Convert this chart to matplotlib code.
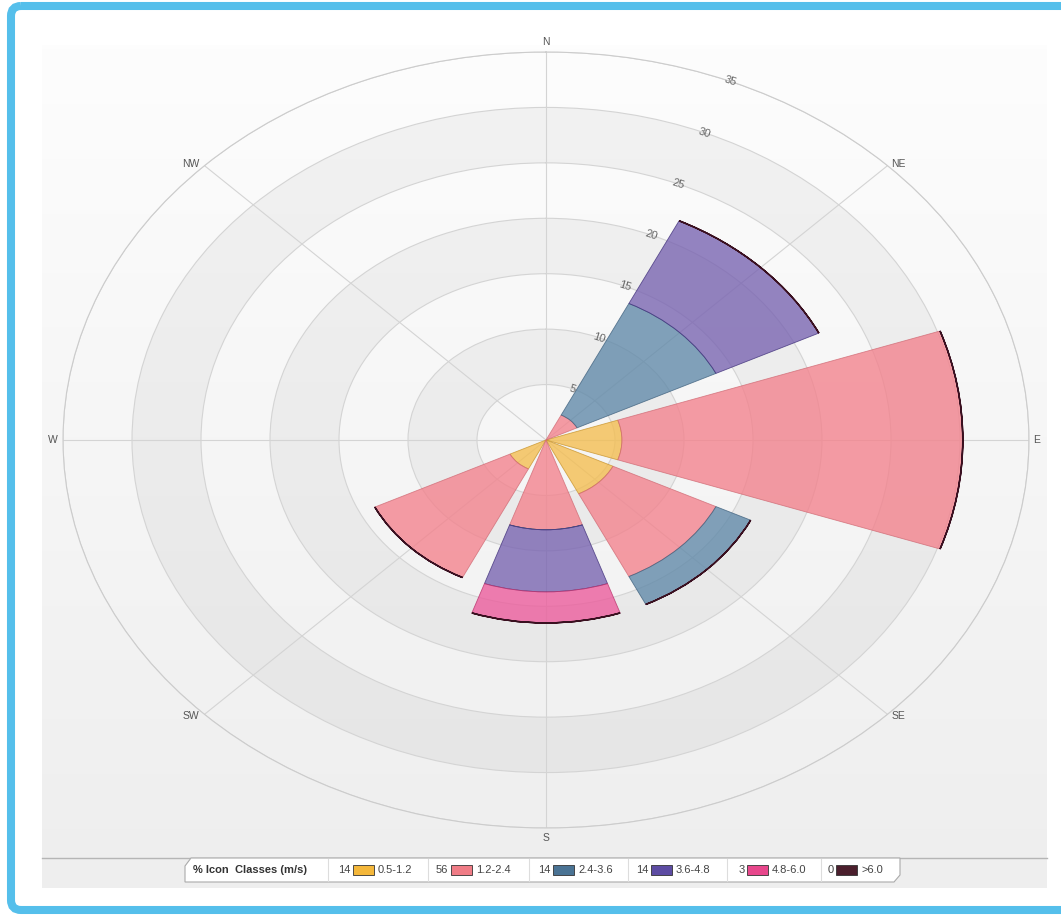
import numpy as np
import matplotlib.pyplot as plt
from matplotlib.patches import Polygon, FancyBboxPatch, Rectangle

# wind directions and speed classes
directions = ["N", "NE", "E", "SE", "S", "SW", "W", "NW"]
dir_angles = [0, 45, 90, 135, 180, 225, 270, 315]
classes = ["0.5-1.2", "1.2-2.4", "2.4-3.6", "3.6-4.8", "4.8-6.0", ">6.0"]
class_pct = [14, 56, 14, 14, 3, 0]

# frequency (%) per direction for each class
v_05_12 = [0, 0, 5.5, 5.4, 0, 2.9, 0, 0]
v_12_24 = [0, 2.5, 24.7, 8.3, 8.1, 10.9, 0, 0]
v_24_36 = [0, 11.2, 0, 2.8, 0, 0, 0, 0]
v_36_48 = [0, 8.3, 0, 0, 5.6, 0, 0, 0]
v_48_60 = [0, 0, 0, 0, 2.8, 0, 0, 0]
v_60_up = [0, 0, 0, 0, 0, 0, 0, 0]

ring_ticks = [5, 10, 15, 20, 25, 30, 35]

series = [v_05_12, v_12_24, v_24_36, v_36_48, v_48_60, v_60_up]
fill_cols = ["#f4bd4f", "#f3818c", "#5f88a8", "#7762b0", "#ec5a9b", "#5a2a3a"]
edge_cols = ["#c8932a", "#d06a74", "#3d5f7c", "#3f2f7a", "#b8306a", "#3a1020"]
swatch_cols = ["#f4b73a", "#f07c86", "#4a7394", "#5d4ca3", "#e8478c", "#4b1f2d"]

W, H = 1061, 915
fig = plt.figure(figsize=(W / 100, H / 100), dpi=100)
fig.patch.set_facecolor("white")

# background layer in pixel coordinates
bg = fig.add_axes([0, 0, 1, 1])
bg.set_xlim(0, W)
bg.set_ylim(H, 0)
bg.axis("off")

top = np.array([253, 253, 253]) / 255
bot = np.array([238, 238, 238]) / 255
t = np.linspace(0, 1, 200)[:, None, None]
grad = top * (1 - t) + bot * t
bg.imshow(grad, extent=(42, 1047, 888, 45), origin="upper", aspect="auto", zorder=0)

bg.add_patch(FancyBboxPatch((11, 6), 1090, 904, boxstyle="round,pad=0,rounding_size=10",
                            fill=False, ec="#55bfeb", lw=5.8, zorder=5))

# polar area (elliptical, like the original)
cx, cy, rx, ry = 546, 440, 483, 388
ax = fig.add_axes([(cx - rx) / W, (H - cy - ry) / H, 2 * rx / W, 2 * ry / H],
                  projection="polar")
ax.set_aspect("auto")
ax.set_facecolor("none")
ax.set_theta_zero_location("N")
ax.set_theta_direction(-1)
ax.set_ylim(0, 35)

# alternating plot bands
for lo in [5, 15, 25]:
    ax.bar(0, 5, width=2 * np.pi, bottom=lo, color="black", alpha=0.038,
           linewidth=0, zorder=0.5)

ax.set_rgrids(ring_ticks, labels=[""] * len(ring_ticks))
ax.set_thetagrids(dir_angles, labels=[""] * len(dir_angles))
ax.grid(True, color="#d4d4d4", lw=0.8, zorder=1)
ax.spines["polar"].set_color("#cccccc")
ax.spines["polar"].set_linewidth(0.8)
ax.tick_params(length=0)

theta = np.deg2rad(dir_angles)
width = np.deg2rad(38)
bottom = np.zeros(len(directions))
for vals, fc, ec in zip(series, fill_cols, edge_cols):
    vals = np.array(vals, dtype=float)
    mask = (vals > 0) | (bottom > 0)
    ax.bar(theta[mask], vals[mask], width=width, bottom=bottom[mask],
           color=fc, alpha=0.78, edgecolor=ec, linewidth=0.6, zorder=3)
    bottom = bottom + vals
# top outline from the last (empty) class
ax.bar(theta[bottom > 0], 0, width=width, bottom=bottom[bottom > 0],
       color="none", edgecolor="#3a1020", linewidth=1.1, zorder=4)

# ring labels along 22.5 degrees
for r in ring_ticks:
    ax.text(np.deg2rad(22.5), r, str(r), rotation=-18, ha="center", va="center",
            fontsize=8, color="#666666", family="Liberation Sans", zorder=5)

# compass labels
offs = {"N": (0, 5, "center", "bottom"), "NE": (4, 2, "left", "center"),
        "E": (4, 0, "left", "center"), "SE": (4, -2, "left", "center"),
        "S": (0, -5, "center", "top"), "SW": (-5, -2, "right", "center"),
        "W": (-5, 0, "right", "center"), "NW": (-5, 2, "right", "center")}
for d, a in zip(directions, dir_angles):
    dx, dy, ha, va = offs[d]
    ax.annotate(d, xy=(np.deg2rad(a), 35), xytext=(dx, dy), textcoords="offset pixels",
                ha=ha, va=va, fontsize=7.5, color="#555555", family="Liberation Sans",
                annotation_clip=False)

# legend strip
bg.plot([42, 1047], [858, 858], color="#b5b5b5", lw=1, zorder=2)
bg.add_patch(Polygon([(185, 882), (185, 866), (191, 858), (900, 858), (900, 875),
                      (894, 882)], closed=True, fc="white", ec="#aaaaaa", lw=0.8, zorder=3))
bg.text(193, 870, "% Icon  Classes (m/s)", ha="left", va="center", fontsize=8,
        fontweight="bold", color="#333333", family="Liberation Sans", zorder=4)
sep_x = [328, 428, 529, 628, 727, 821]
item_x = [338, 436, 538, 636, 739, 828]
for sx, ix, pct, lab, sc in zip(sep_x, item_x, class_pct, classes, swatch_cols):
    bg.plot([sx, sx], [859, 881], color="#dddddd", lw=0.8, zorder=4)
    bg.text(ix, 870, str(pct), ha="left", va="center", fontsize=8, color="#444444",
            family="Liberation Sans", zorder=4)
    sw0 = ix + 8 + 7 * (len(str(pct)) - 1)
    bg.add_patch(Rectangle((sw0, 865), 21, 10, fc=sc, ec="#333333", lw=0.6, zorder=4))
    bg.text(sw0 + 25, 870, lab, ha="left", va="center", fontsize=8, color="#444444",
            family="Liberation Sans", zorder=4)

fig.savefig("out.png", dpi=100)
